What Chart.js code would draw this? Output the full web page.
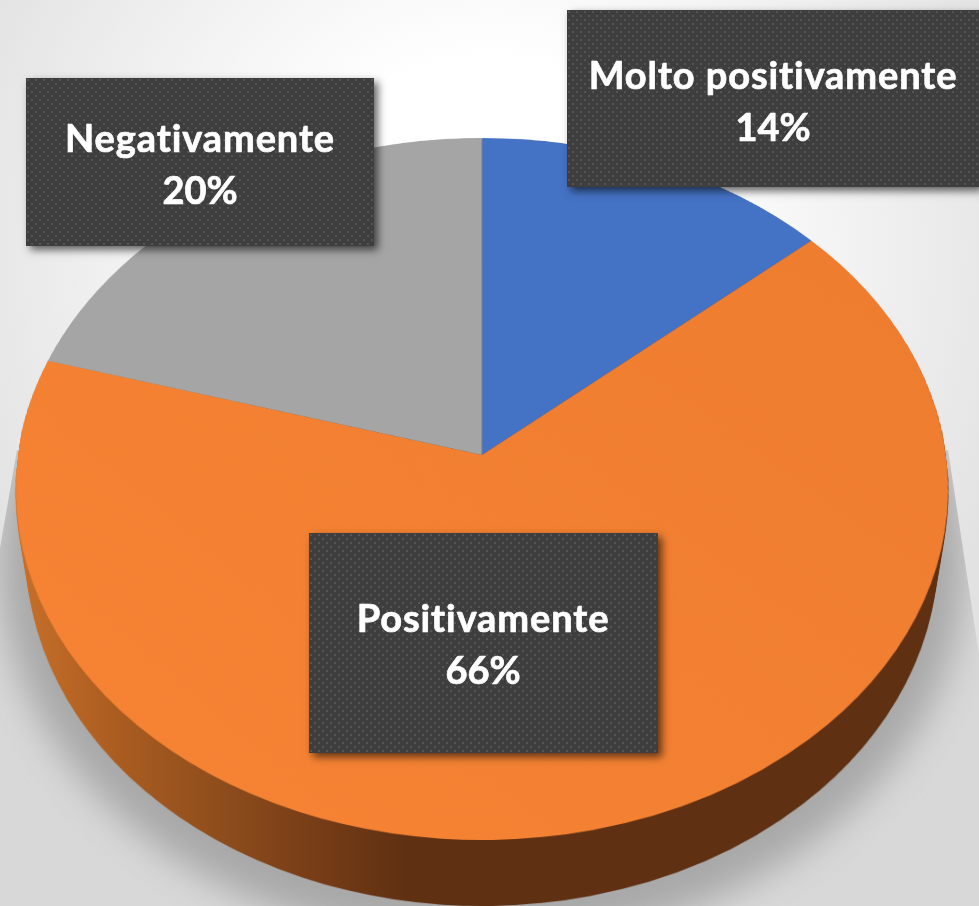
<!DOCTYPE html>
<html>
<head>
<meta charset="utf-8">
<style>
html,body{margin:0;padding:0;background:#fff;overflow:hidden}
canvas{display:block}
</style>
<script src="https://cdn.jsdelivr.net/npm/chart.js@4/dist/chart.umd.min.js"></script>
</head>
<body>
<canvas id="c" width="979" height="906"></canvas>
<script>
const categories = ['Molto positivamente', 'Positivamente', 'Negativamente'];
const values = [13.6, 65.8, 20.49];
const sliceColors = ['#4472c4', '#f27f31', '#a5a5a5'];

// layout of the label boxes, in the same order as the categories
const labelBoxes = [
  {x: 567, y: 10, w: 412, h: 177, cx: 773, base: 89},
  {x: 309, y: 533, w: 349, h: 220, cx: 483, base: 632},
  {x: 26, y: 78, w: 348, h: 168, cx: 200, base: 152}
];

const W = 979, H = 906;
// tilted disc: where the circle's top, centre and bottom land on the page
const tilt = {xc: 482, top: 138, mid: 455, bottom: 840, halfWidth: 464};
const wall = {depth: 66, shrink: 0.976};

function warpFace(src, cx, cy, R) {
  const out = document.createElement('canvas');
  out.width = W; out.height = H;
  const o = out.getContext('2d');
  const B = tilt.mid;
  const C = (tilt.top + tilt.bottom - 2 * B) / (tilt.top - tilt.bottom);
  const A = tilt.bottom * (1 + C) - B;
  const toU = y => (y - B) / (A - C * y);
  o.imageSmoothingEnabled = true;
  o.imageSmoothingQuality = 'high';
  for (let y = tilt.top - 1; y <= tilt.bottom + 1; y++) {
    const u0 = toU(y), u1 = toU(y + 1), um = (u0 + u1) / 2;
    const w = 2 * tilt.halfWidth / (C * um + 1);
    o.drawImage(src, cx - R, cy + u0 * R, 2 * R, (u1 - u0) * R, tilt.xc - w / 2, y, w, 1);
  }
  return out;
}

function paintBackdrop(ctx) {
  const g = ctx.createRadialGradient(490, 250, 190, 490, 250, 570);
  g.addColorStop(0, '#ffffff');
  g.addColorStop(1, '#e2e2e2');
  ctx.fillStyle = g;
  ctx.fillRect(0, 0, W, H);

  ctx.save();
  ctx.beginPath();
  ctx.moveTo(17, 450); ctx.lineTo(0, 548); ctx.lineTo(0, H); ctx.lineTo(W, H);
  ctx.lineTo(W, 655); ctx.lineTo(948, 450); ctx.closePath();
  ctx.clip();
  ctx.fillStyle = '#d8d8d8';
  ctx.fillRect(0, 400, W, H - 400);
  ctx.filter = 'blur(18px)';
  ctx.fillStyle = '#a8a8a8';
  ctx.beginPath();
  ctx.ellipse(482, 565, 482, 380, 0, 0, Math.PI * 2);
  ctx.fill();
  ctx.restore();
}

function paintWall(ctx, face) {
  const w = document.createElement('canvas');
  w.width = W; w.height = H;
  const c = w.getContext('2d');
  for (let d = wall.depth; d >= 1; d--) {
    const s = 1 - (1 - wall.shrink) * d / wall.depth;
    c.drawImage(face, tilt.xc - tilt.xc * s, d, W * s, H);
  }
  c.globalCompositeOperation = 'source-in';
  const g = c.createLinearGradient(15, 0, 948, 0);
  g.addColorStop(0, '#c8702a');
  g.addColorStop(0.1, '#ad5e21');
  g.addColorStop(0.2, '#93501d');
  g.addColorStop(0.3, '#7c4018');
  g.addColorStop(0.42, '#5f3012');
  g.addColorStop(1, '#5f3012');
  c.fillStyle = g;
  c.fillRect(0, 0, W, H);
  ctx.drawImage(w, 0, 0);
}

function dotPattern(ctx) {
  const p = document.createElement('canvas');
  p.width = 8; p.height = 8;
  const c = p.getContext('2d');
  c.fillStyle = '#3e3e3e';
  c.fillRect(0, 0, 8, 8);
  c.fillStyle = '#545454';
  c.fillRect(1, 1, 2, 2);
  c.fillRect(5, 5, 2, 2);
  return ctx.createPattern(p, 'repeat');
}

function paintLabels(ctx) {
  const pattern = dotPattern(ctx);
  categories.forEach((name, i) => {
    const b = labelBoxes[i];
    ctx.save();
    ctx.shadowColor = 'rgba(0,0,0,0.6)';
    ctx.shadowBlur = 8;
    ctx.shadowOffsetX = 4;
    ctx.shadowOffsetY = 4;
    ctx.fillStyle = '#3e3e3e';
    ctx.fillRect(b.x, b.y, b.w, b.h);
    ctx.restore();
    ctx.save();
    ctx.translate(b.x, b.y);
    ctx.fillStyle = pattern;
    ctx.fillRect(0, 0, b.w, b.h);
    ctx.restore();
    ctx.save();
    ctx.fillStyle = '#ffffff';
    ctx.strokeStyle = '#ffffff';
    ctx.lineWidth = 0.7;
    ctx.lineJoin = 'round';
    ctx.font = 'bold 38px Lato';
    ctx.textAlign = 'center';
    ctx.textBaseline = 'alphabetic';
    const pct = Math.round(values[i]) + '%';
    ctx.letterSpacing = '0.9px';
    ctx.strokeText(name, b.cx, b.base);
    ctx.fillText(name, b.cx, b.base);
    ctx.letterSpacing = '0px';
    ctx.strokeText(pct, b.cx, b.base + 52);
    ctx.fillText(pct, b.cx, b.base + 52);
    ctx.restore();
  });
}

const tiltedDisc = {
  id: 'tiltedDisc',
  afterDraw(chart) {
    const ctx = chart.ctx;
    const arc = chart.getDatasetMeta(0).data[0];
    const flat = document.createElement('canvas');
    flat.width = W; flat.height = H;
    flat.getContext('2d').drawImage(chart.canvas, 0, 0);
    const face = warpFace(flat, arc.x, arc.y, arc.outerRadius);
    ctx.clearRect(0, 0, W, H);
    paintBackdrop(ctx);
    paintWall(ctx, face);
    ctx.drawImage(face, 0, 0);
    paintLabels(ctx);
  }
};

const canvas = document.getElementById('c');
// the orange face is very slightly lighter towards the lower left
const orange = canvas.getContext('2d').createLinearGradient(800, 150, 150, 800);
orange.addColorStop(0, '#ef7d2f');
orange.addColorStop(1, '#f68334');
const fills = sliceColors.map((c, i) => i === 1 ? orange : c);

new Chart(canvas, {
  type: 'pie',
  data: {
    labels: categories,
    datasets: [{data: values, backgroundColor: fills, borderWidth: 0}]
  },
  options: {
    responsive: false,
    animation: false,
    events: [],
    plugins: {legend: {display: false}, tooltip: {enabled: false}}
  },
  plugins: [tiltedDisc]
});
</script>
</body>
</html>
